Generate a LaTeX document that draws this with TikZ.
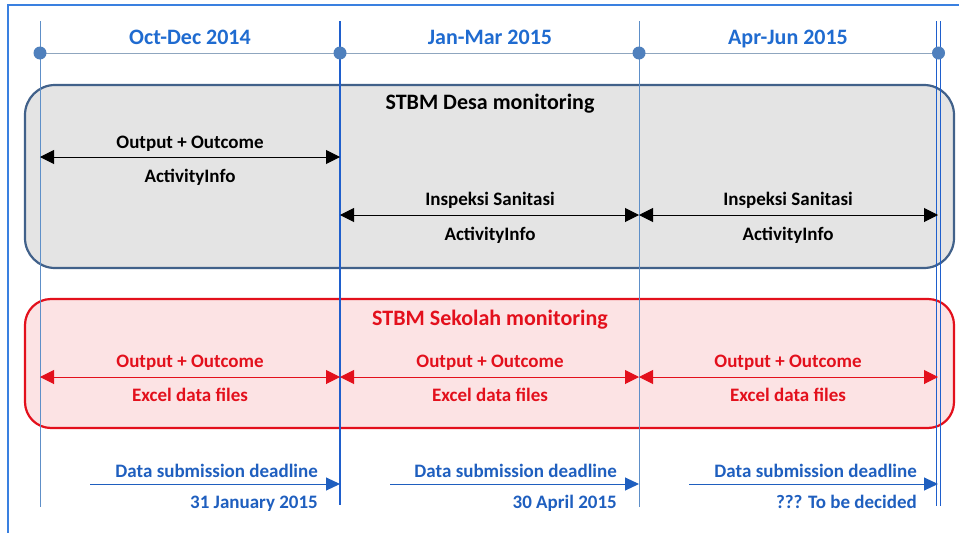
\documentclass[tikz,border=0pt]{standalone}
\usepackage{fontspec}
\setmainfont{Carlito}
\usetikzlibrary{arrows.meta}
\definecolor{framecol}{HTML}{3A80E0}
\definecolor{gridthin}{HTML}{5E8FC8}
\definecolor{gridthick}{HTML}{1F5FCC}
\definecolor{timecol}{HTML}{8FA6BF}
\definecolor{dotcol}{HTML}{4F80BD}
\definecolor{periodblue}{HTML}{1F6BD0}
\definecolor{deadblue}{HTML}{1F5FBF}
\definecolor{desaline}{HTML}{41618A}
\definecolor{desafill}{HTML}{E4E4E4}
\definecolor{sekred}{HTML}{E3101C}
\definecolor{sekfill}{HTML}{FCE3E4}
\tikzset{
  lbl/.style={font=\bfseries\fontsize{19}{22}\selectfont, inner sep=0pt, anchor=base},
  period/.style={lbl, text=periodblue, font=\bfseries\fontsize{22}{26}\selectfont},
  title/.style={lbl, font=\bfseries\fontsize{22}{26}\selectfont},
  deadline/.style={lbl, text=deadblue, anchor=base east},
  span/.style={line width=1pt, {Triangle[length=14pt,width=14pt]}-{Triangle[length=14pt,width=14pt]}},
  deadarrow/.style={deadblue, line width=1pt, -{Triangle[length=14pt,width=13pt]}}
}
\begin{document}
\begin{tikzpicture}[x=1pt,y=-1pt]
    \useasboundingbox (0,0) rectangle (959,533);
    \fill[white] (0,0) rectangle (959,533);
    % frame
    \draw[framecol, line width=1.5pt] (8,533) -- (8,5) -- (959,5);
    % boxes
    \draw[desaline, fill=desafill, line width=2.2pt, rounded corners=30pt] (25,85) rectangle (954,268);
    \draw[sekred, fill=sekfill, line width=2.2pt, rounded corners=26pt] (25,299) rectangle (954,428);
    % quarter lines
    \coordinate (t0) at (40,53);
    \coordinate (t1) at (340,53);
    \coordinate (t2) at (639,53);
    \coordinate (t3) at (938.5,53);
    \draw[gridthin, line width=1pt] (40,21) -- (40,507);
    \draw[gridthick, line width=2pt] (340,21) -- (340,505);
    \draw[gridthin, line width=1pt] (639,21) -- (639,507);
    \draw[gridthick, line width=1.4pt] (936.5,21) -- (936.5,506);
    \draw[gridthick, line width=1.4pt] (940.5,21) -- (940.5,506);
    \draw[timecol, line width=1pt] (t0) -- (t3);
    \foreach \t in {t0,t1,t2,t3} \fill[dotcol] (\t) circle (6.5);
    \node[period] (q1) at (190,44) {Oct-Dec 2014};
    \node[period] (q2) at (490,44) {Jan-Mar 2015};
    \node[period] (q3) at (788,44) {Apr-Jun 2015};
    % STBM Desa
    \node[title] (desa) at (490,109) {STBM Desa monitoring};
    \coordinate (a0) at (40,157);
    \coordinate (a1) at (340,157);
    \draw[span] (a0) -- (a1);
    \node[lbl] (d1) at (190,148) {Output + Outcome};
    \node[lbl] (d1b) at (190,182) {ActivityInfo};
    \coordinate (b1) at (340,215);
    \coordinate (b2) at (639,215);
    \coordinate (b3) at (938,215);
    \draw[span] (b1) -- (b2);
    \draw[span] (b2) -- (b3);
    \node[lbl] (d2) at (490,205) {Inspeksi Sanitasi};
    \node[lbl] (d2b) at (490,240) {ActivityInfo};
    \node[lbl] (d3) at (788,205) {Inspeksi Sanitasi};
    \node[lbl] (d3b) at (788,240) {ActivityInfo};
    % STBM Sekolah
    \node[title, text=sekred] (sek) at (490,325) {STBM Sekolah monitoring};
    \coordinate (c0) at (40,377);
    \coordinate (c1) at (340,377);
    \coordinate (c2) at (639,377);
    \coordinate (c3) at (938,377);
    \draw[span, sekred] (c0) -- (c1);
    \draw[span, sekred] (c1) -- (c2);
    \draw[span, sekred] (c2) -- (c3);
    \node[lbl, text=sekred] (s1) at (190,367) {Output + Outcome};
    \node[lbl, text=sekred] (s1b) at (190,401) {Excel data files};
    \node[lbl, text=sekred] (s2) at (490,367) {Output + Outcome};
    \node[lbl, text=sekred] (s2b) at (490,401) {Excel data files};
    \node[lbl, text=sekred] (s3) at (788,367) {Output + Outcome};
    \node[lbl, text=sekred] (s3b) at (788,401) {Excel data files};
    % deadlines
    \coordinate (e0) at (90,484);
    \coordinate (e1) at (340,484);
    \coordinate (f0) at (390,484);
    \coordinate (f1) at (639,484);
    \coordinate (g0) at (689,484);
    \coordinate (g1) at (938,484);
    \draw[deadarrow] (e0) -- (e1);
    \draw[deadarrow] (f0) -- (f1);
    \draw[deadarrow] (g0) -- (g1);
    \node[deadline] (dl1) at (318,477) {Data submission deadline};
    \node[deadline] (dd1) at (318,508) {31 January 2015};
    \node[deadline] (dl2) at (617,477) {Data submission deadline};
    \node[deadline] (dd2) at (617,508) {30 April 2015};
    \node[deadline] (dl3) at (917,477) {Data submission deadline};
    \node[deadline] (dd3) at (917,508) {??? To be decided};
\end{tikzpicture}
\end{document}
